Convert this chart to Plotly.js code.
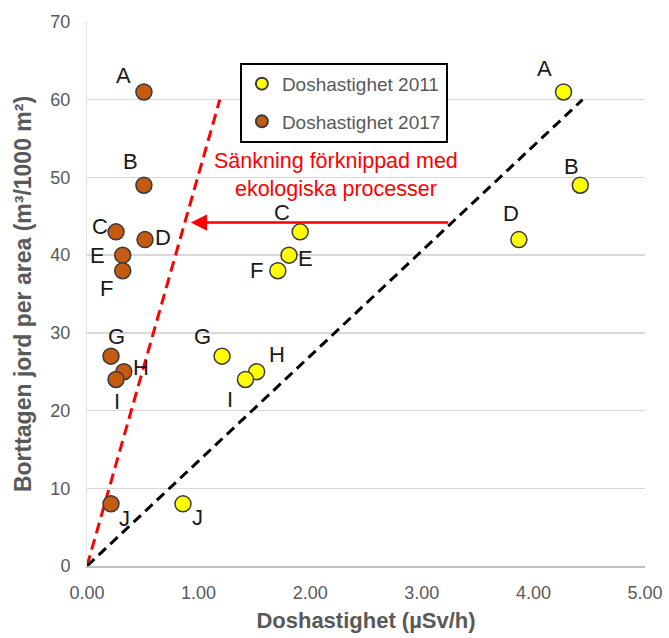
<!DOCTYPE html>
<html>
<head>
<meta charset="utf-8">
<script src="https://cdn.plot.ly/plotly-3.0.1.min.js"></script>
<style>html,body{margin:0;padding:0;background:#fff}#chart{width:669px;height:638px}</style>
</head>
<body>
<div id="chart"></div>
<script>
// Data
const labels = ["A","B","C","D","E","F","G","H","I","J"];
const y_jord = [61, 49, 43, 42, 40, 38, 27, 25, 24, 8];
const x_2011 = [4.27, 4.42, 1.91, 3.87, 1.81, 1.71, 1.21, 1.52, 1.42, 0.86];
const x_2017 = [0.51, 0.51, 0.26, 0.52, 0.32, 0.32, 0.215, 0.33, 0.26, 0.215];
const line2011 = {x: [0, 4.44], y: [0, 60]};
const line2017 = {x: [0, 1.19], y: [0, 60]};
const arrow = {xFrom: 3.25, xTo: 0.93, y: 44.2};
const xTicks = [0, 1, 2, 3, 4, 5];
const yTicks = [0, 10, 20, 30, 40, 50, 60, 70];

// label offsets (pixels)
const off2017 = [[-20,16],[-13,24],[-16,5],[18,2],[-25,0],[-16,-18],[6,20],[17,4],[1,-22],[14,-15]];
const off2011 = [[-19,23],[-9,19],[-18,19],[-8,26],[16,-3],[-21,0],[-20,20],[20,17],[-15,-20],[15,-14]];

const gray = "#595959";
const FONT = "Liberation Sans, Arial, sans-serif";
const traces = [
  {x: line2017.x, y: line2017.y, mode: "lines", line: {color: "#ff0000", width: 3, dash: "11px,6px"}, showlegend: false, hoverinfo: "skip"},
  {x: line2011.x, y: line2011.y, mode: "lines", line: {color: "#000000", width: 3, dash: "10px,6px"}, showlegend: false, hoverinfo: "skip"},
  {x: x_2011, y: y_jord, mode: "markers", name: "Doshastighet 2011", legendgroup: "a",
   marker: {color: "#ffff00", size: 16, line: {color: "#3a3a3a", width: 1.5}}},
  {x: x_2017, y: y_jord, mode: "markers", name: "Doshastighet 2017", legendgroup: "b",
   marker: {color: "#c55a11", size: 16, line: {color: "#3a3a3a", width: 1.5}}}
];

const annotations = [];
labels.forEach((l, i) => {
  annotations.push({x: x_2017[i], y: y_jord[i], text: l, showarrow: false, xshift: off2017[i][0], yshift: off2017[i][1],
    font: {family: FONT, size: 22, color: "#1a1a1a"}});
  annotations.push({x: x_2011[i], y: y_jord[i], text: l, showarrow: false, xshift: off2011[i][0], yshift: off2011[i][1],
    font: {family: FONT, size: 22, color: "#1a1a1a"}});
});
annotations.push({x: arrow.xTo, y: arrow.y, ax: arrow.xFrom, ay: arrow.y, axref: "x", ayref: "y", xref: "x", yref: "y",
  text: "", showarrow: true, arrowhead: 2, arrowsize: 1.3, arrowwidth: 2.5, arrowcolor: "#ff0000"});
annotations.push({x: 2.23, y: 50.3, text: "Sänkning förknippad med<br>ekologiska processer", showarrow: false,
  font: {family: FONT, size: 21.5, color: "#ff0000"}, align: "center"});

const layout = {
  width: 669, height: 638,
  margin: {l: 87, r: 24, t: 22, b: 72},
  paper_bgcolor: "#ffffff", plot_bgcolor: "#ffffff",
  font: {family: FONT, color: gray},
  xaxis: {range: [0, 5], tickvals: xTicks, tickformat: ".2f", showgrid: false, zeroline: false,
    showline: true, linecolor: "#bfbfbf", linewidth: 1.5, ticks: "", tickfont: {size: 18, color: gray},
    ticklabelstandoff: 10,
    title: {text: "Doshastighet (µSv/h)", font: {size: 22, color: gray, weight: "bold"}, standoff: 10}},
  yaxis: {range: [0, 70], tickvals: yTicks, showgrid: true, gridcolor: "#d9d9d9", gridwidth: 1.5, zeroline: false,
    showline: true, linecolor: "#e3e3e3", linewidth: 1, ticks: "", tickfont: {size: 18, color: gray},
    ticklabelstandoff: 12,
    title: {text: "Borttagen jord per area (m³/1000 m²)", font: {size: 23, color: gray, weight: "bold"}, standoff: 12}},
  showlegend: true,
  legend: {x: 0.274, y: 0.925, xanchor: "left", yanchor: "top", bordercolor: "#000000", borderwidth: 2,
    bgcolor: "#ffffff", font: {size: 19, color: gray}, itemsizing: "constant", tracegroupgap: 10, itemwidth: 30},
  annotations: annotations
};

Plotly.newPlot("chart", traces, layout, {displayModeBar: false, staticPlot: true});
</script>
</body>
</html>
